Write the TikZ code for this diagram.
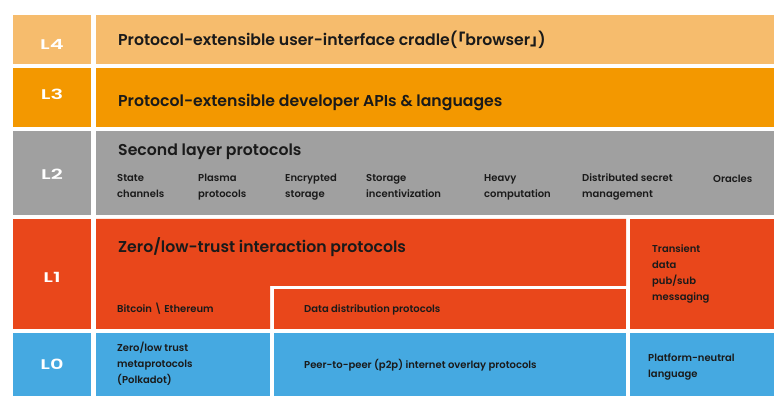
\documentclass[tikz,border=0pt]{standalone}
\usepackage{fontspec}
\setmainfont{Poppins}[BoldFont={Poppins SemiBold}]
\newfontfamily\cjk{Noto Sans CJK SC}
\usetikzlibrary{positioning}
\definecolor{LFour}{HTML}{F6BC6D}
\definecolor{LThree}{HTML}{F39800}
\definecolor{LTwo}{HTML}{A0A0A0}
\definecolor{LOne}{HTML}{E9471B}
\definecolor{LZero}{HTML}{45A9E1}
\definecolor{Ink}{HTML}{1A1A1A}

\begin{document}
\begin{tikzpicture}[x=1pt,y=-1pt,
  tag/.style={text=white,anchor=base,inner sep=0pt,font=\bfseries\fontsize{14}{14}\selectfont},
  head/.style={text=Ink,anchor=base west,inner sep=0pt,font=\bfseries\fontsize{15.7}{16}\selectfont},
  item/.style={text=Ink,anchor=base west,inner sep=0pt,align=left,font=\bfseries\fontsize{10}{16}\selectfont}]
  \useasboundingbox (0,0) rectangle (780,403);
  % layer tags on the left
  \foreach \n/\c/\t/\b/\y in {4/LFour/15/64/50,3/LThree/68/127/100,2/LTwo/131/215/180,1/LOne/219/329/283,0/LZero/333/396/370}{
    \fill[\c] (13,\t) rectangle (91,\b);
    \node[tag] (tag\n) at (52,\y) {\scalebox{1.5}[1]{L\n}};
  }
  % layer bodies
  \fill[LFour] (96,15) rectangle (774,64);
  \fill[LThree] (96,68) rectangle (774,127);
  \fill[LTwo] (96,131) rectangle (774,215);
  \fill[LOne] (96,219) -- (626,219) -- (626,286) -- (270,286) -- (270,329) -- (96,329) -- cycle;
  \fill[LOne] (274,289) rectangle (626,329);
  \fill[LOne] (630,219) rectangle (774,329);
  \fill[LZero] (96,333) rectangle (270,396);
  \fill[LZero] (274,333) rectangle (626,396);
  \fill[LZero] (630,333) rectangle (774,396);

  % texts (base = last line)
  \node[head] (l4head) at (118,46) {Protocol-extensible user-interface cradle({\cjk ｢}browser{\cjk ｣})};
  \node[head] (l3head) at (118,107) {Protocol-extensible developer APIs \& languages};
  \node[head] (l2head) at (118,156) {Second layer protocols};
  \foreach \x/\t [count=\k] in {117/{State\\channels},198/{Plasma\\protocols},285/{Encrypted\\storage},
      366/{Storage\\incentivization},484/{Heavy\\computation},582/{Distributed secret\\management}}{
    \node[item] (l2item\k) at (\x,198) {\t};
  }
  \node[item] (oracles) at (713,183) {Oracles};
  \node[head] (l1head) at (118,253) {Zero/low-trust interaction protocols};
  \node[item] (btc) at (117,313) {Bitcoin \textbackslash{} Ethereum};
  \node[item] (datadist) at (304,313) {Data distribution protocols};
  \node[item] (pubsub) at (652,301) {Transient\\data\\pub/sub\\messaging};
  \node[item] (meta) at (117,384) {Zero/low trust\\metaprotocols\\(Polkadot)};
  \node[item] (p2p) at (304,369) {Peer-to-peer (p2p) internet overlay protocols};
  \node[item] (neutral) at (648,378) {Platform-neutral\\language};
\end{tikzpicture}
\end{document}
